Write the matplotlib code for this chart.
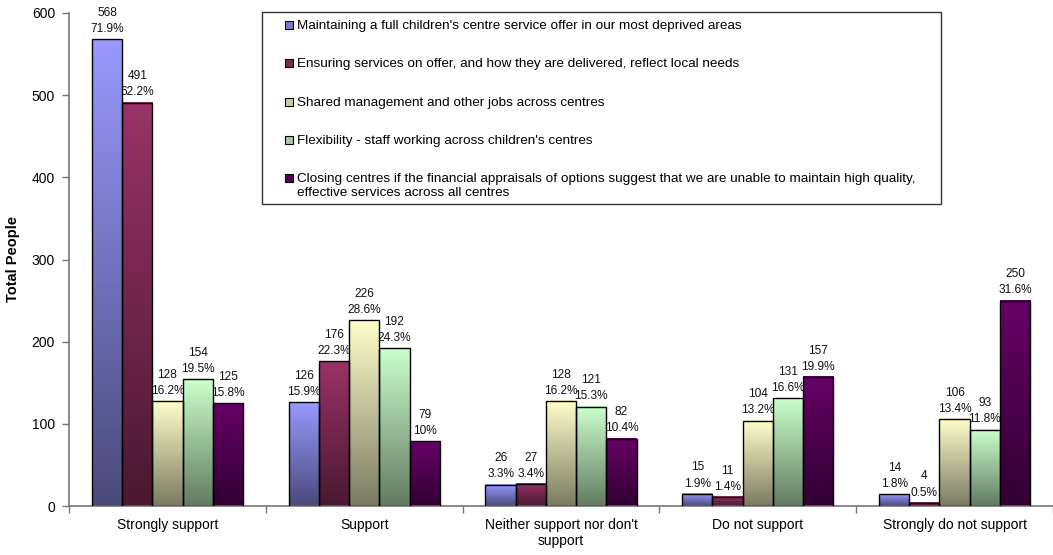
import numpy as np
import matplotlib
matplotlib.use("Agg")
import matplotlib.pyplot as plt
from matplotlib.patches import Rectangle
from matplotlib.colors import to_rgb, LinearSegmentedColormap

plt.rcParams['font.family'] = ['Liberation Sans', 'DejaVu Sans']

categories = ["Strongly support", "Support", "Neither support nor don't\nsupport",
              "Do not support", "Strongly do not support"]
series_names = [
    "Maintaining a full children's centre service offer in our most deprived areas",
    "Ensuring services on offer, and how they are delivered, reflect local needs",
    "Shared management and other jobs across centres",
    "Flexibility - staff working across children's centres",
    "Closing centres if the financial appraisals of options suggest that we are unable to maintain high quality,\neffective services across all centres",
]
counts_maintaining = [568, 126, 26, 15, 14]
counts_ensuring = [491, 176, 27, 11, 4]
counts_shared = [128, 226, 128, 104, 106]
counts_flexibility = [154, 192, 121, 131, 93]
counts_closing = [125, 79, 82, 157, 250]
pct_maintaining = ["71.9%", "15.9%", "3.3%", "1.9%", "1.8%"]
pct_ensuring = ["62.2%", "22.3%", "3.4%", "1.4%", "0.5%"]
pct_shared = ["16.2%", "28.6%", "16.2%", "13.2%", "13.4%"]
pct_flexibility = ["19.5%", "24.3%", "15.3%", "16.6%", "11.8%"]
pct_closing = ["15.8%", "10%", "10.4%", "19.9%", "31.6%"]

counts = [counts_maintaining, counts_ensuring, counts_shared, counts_flexibility, counts_closing]
pcts = [pct_maintaining, pct_ensuring, pct_shared, pct_flexibility, pct_closing]
top_colors = ["#9999FF", "#993366", "#FFFFCC", "#CCFFCC", "#660066"]

W, H = 1053, 555
fig = plt.figure(figsize=(W / 100, H / 100), dpi=100)
fig.patch.set_facecolor("white")

left, right, top, bottom = 69, 1053, 13, 506
ax = fig.add_axes([left / W, 1 - bottom / H, (right - left) / W, (bottom - top) / H])
ax.set_facecolor("white")

group_px = 198.0
xmax = -0.5 + (right - left) / group_px
bw = 0.1535
x = np.arange(len(categories))

for i, (vals, pc, col) in enumerate(zip(counts, pcts, top_colors)):
    c = np.array(to_rgb(col))
    cmap = LinearSegmentedColormap.from_list(f"g{i}", [c * 0.48, c])
    grad = np.linspace(0, 1, 256).reshape(-1, 1)
    xs = x - 2 * bw + i * bw
    for xi, v, p in zip(xs, vals, pc):
        ax.imshow(grad, extent=[xi - bw / 2, xi + bw / 2, 0, v], origin="lower",
                  aspect="auto", cmap=cmap, zorder=2, interpolation="bilinear")
        ax.add_patch(Rectangle((xi - bw / 2, 0), bw, v, fill=False,
                               edgecolor="black", linewidth=1.0, zorder=3))
        ax.annotate(f"{v}\n{p}", (xi, v), xytext=(0, 3), textcoords="offset points",
                    ha="center", va="bottom", fontsize=8.6, linespacing=1.45,
                    color="#111111", zorder=1)

ax.set_xlim(-0.5, xmax)
ax.set_ylim(0, 600)
ax.set_yticks(range(0, 601, 100))
ax.set_xticks(np.arange(-0.5, 4.6, 1.0), minor=False)
ax.set_xticklabels([])
ax.tick_params(axis="x", direction="out", length=5, color="#777777", width=1)
ax.tick_params(axis="y", direction="out", length=5, color="#777777", width=1,
               labelsize=10, pad=5)
for i, cat in enumerate(categories):
    ax.text(i, -15, cat, ha="center", va="top", fontsize=10,
            transform=ax.transData, linespacing=1.15)
for s in ["top", "right"]:
    ax.spines[s].set_visible(False)
ax.spines["left"].set_color("#777777")
ax.spines["bottom"].set_color("#777777")
ax.spines["left"].set_linewidth(1.2)
ax.spines["bottom"].set_linewidth(1.2)
ax.set_ylabel("Total People", fontsize=10.5, fontweight="bold")
ax.yaxis.set_label_coords((20 - left) / (right - left), 0.5)

# legend box (manual)
def fx(px):
    return px / W

def fy(py):
    return 1 - py / H

lx0, ly0, lx1, ly1 = 262, 12, 941, 204
fig.patches.append(Rectangle((fx(lx0), fy(ly1)), fx(lx1) - fx(lx0), fy(ly0) - fy(ly1),
                             transform=fig.transFigure, facecolor="white",
                             edgecolor="#333333", linewidth=1.0, zorder=5))
row_y = [25, 63, 102, 140, 178]
for name, col, yy in zip(series_names, top_colors, row_y):
    c = np.array(to_rgb(col))
    fig.patches.append(Rectangle((fx(285), fy(yy + 4)), fx(8), 8 / H,
                                 transform=fig.transFigure, facecolor=c * 0.8,
                                 edgecolor="black", linewidth=0.8, zorder=6))
    fig.text(fx(297), fy(yy - 5), name, ha="left", va="top", fontsize=9.7,
             linespacing=1.2, zorder=7)

fig.savefig("out.png", dpi=100)
